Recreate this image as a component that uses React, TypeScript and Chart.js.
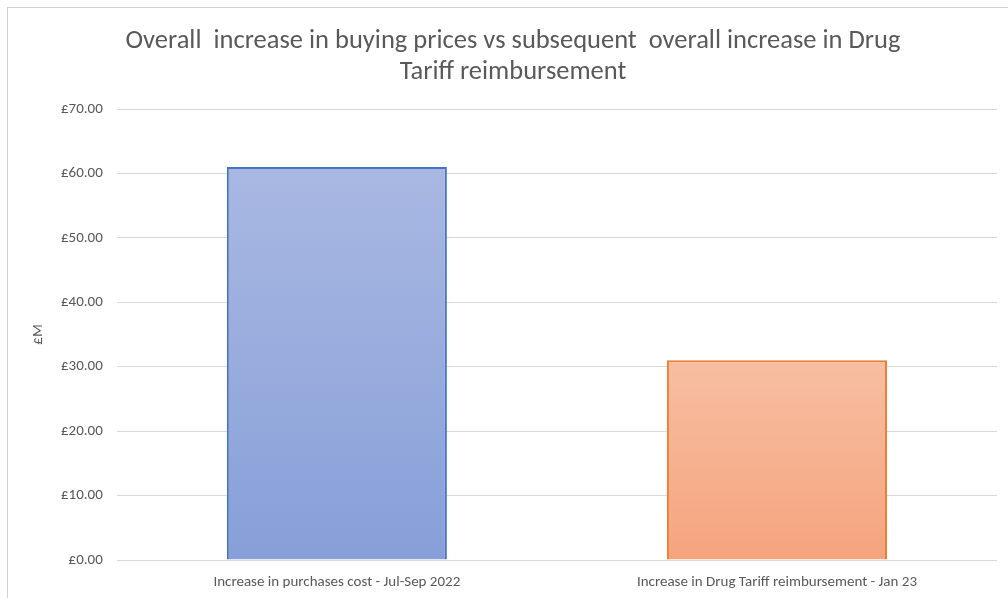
import React, { useEffect, useRef } from "react";
import { Chart, registerables } from "chart.js";

Chart.register(...registerables);

const categories = [
  "Increase in purchases cost - Jul-Sep 2022",
  "Increase in Drug Tariff reimbursement - Jan 23",
];
const values = [61, 31];
const titleLines = [
  "Overall  increase in buying prices vs subsequent  overall increase in Drug",
  "Tariff reimbursement",
];
const yAxisTitle = "£M";
const topColors = ["#A9B8E2", "#F7BEA2"];
const bottomColors = ["#879FD8", "#F5A47D"];
const borderColors = ["#4472C4", "#ED7D31"];

const FONT = "Carlito, Calibri, Lato, sans-serif";

export default function App() {
  const ref = useRef<HTMLCanvasElement | null>(null);
  useEffect(() => {
    if (!ref.current) return;
    const chart = new Chart(ref.current, {
      type: "bar",
      data: {
        labels: categories,
        datasets: [
          {
            data: values,
            backgroundColor: (ctx: any) => {
              const c = ctx.chart;
              const i = ctx.dataIndex;
              const ys = c.scales?.y;
              if (!c.chartArea || !ys || i === undefined) return topColors[i ?? 0];
              const top = ys.getPixelForValue(values[i]);
              const bot = ys.getPixelForValue(0);
              const g = c.ctx.createLinearGradient(0, top, 0, bot);
              g.addColorStop(0, topColors[i]);
              g.addColorStop(1, bottomColors[i]);
              return g;
            },
            borderColor: borderColors,
            borderWidth: 2,
            barPercentage: 0.5,
            categoryPercentage: 1,
          },
        ],
      },
      options: {
        animation: false,
        responsive: false,
        maintainAspectRatio: false,
        layout: { padding: { left: 29, right: 11, top: 26, bottom: -6 } },
        plugins: {
          legend: { display: false },
          tooltip: { enabled: false },
          title: {
            display: true,
            text: titleLines,
            color: "#595959",
            font: { family: FONT, size: 26.5, weight: "normal" as any, lineHeight: 1.17 },
            padding: { top: 0, bottom: 21 },
          },
        },
        scales: {
          x: {
            grid: { display: false, drawTicks: false },
            border: { display: false },
            ticks: {
              color: "#595959",
              font: { family: FONT, size: 15 },
              padding: 13,
              maxRotation: 0,
            },
          },
          y: {
            min: 0,
            max: 70,
            grid: { color: "#D9D9D9", lineWidth: 1, drawTicks: false },
            border: { display: false },
            ticks: {
              stepSize: 10,
              color: "#595959",
              font: { family: FONT, size: 15 },
              padding: 14,
              callback: (v: any) => "£" + Number(v).toFixed(2),
            },
            title: {
              display: true,
              text: yAxisTitle,
              color: "#595959",
              font: { family: FONT, size: 15 },
              padding: { top: 0, bottom: 0 },
            },
          },
        },
      },
    });
    return () => chart.destroy();
  }, []);

  return (
    <div style={{ position: "fixed", left: 0, top: 0, width: 1008, height: 598, background: "#fff", overflow: "hidden" }}>
      <div
        style={{
          position: "absolute",
          left: 7,
          top: 7,
          width: 1010,
          height: 600,
          borderLeft: "1px solid #D0D0D0",
          borderTop: "1px solid #D0D0D0",
        }}
      />
      <canvas ref={ref} width={1008} height={598} style={{ position: "absolute", left: 0, top: 0, width: 1008, height: 598 }} />
    </div>
  );
}
